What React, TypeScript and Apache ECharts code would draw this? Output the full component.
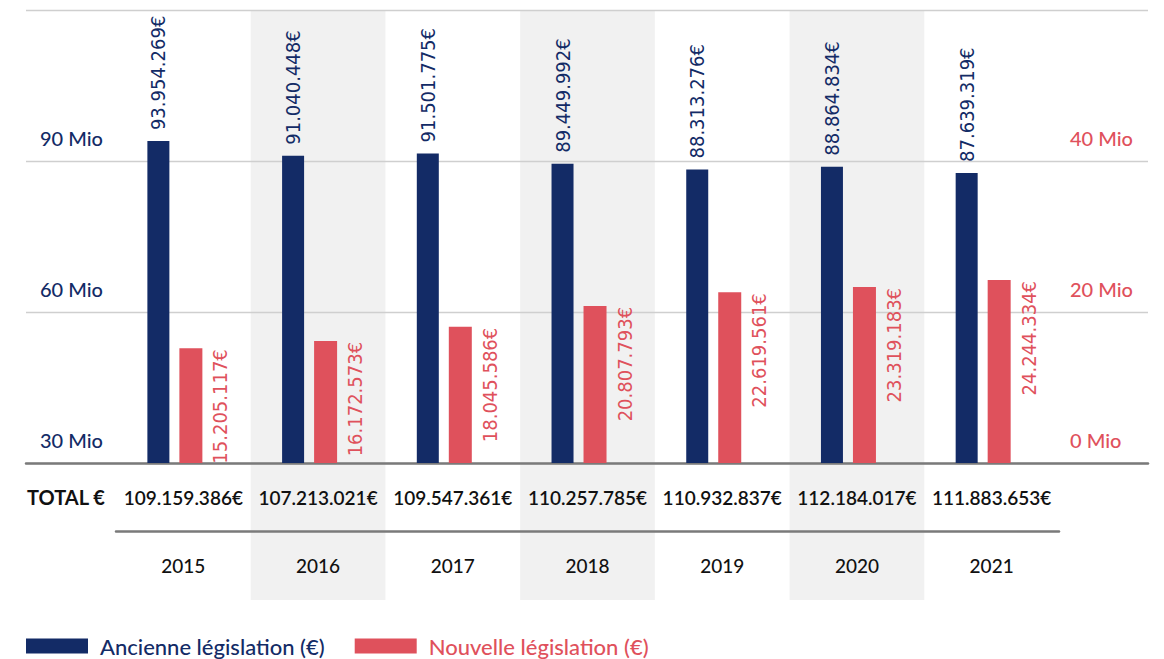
import React, { useEffect, useRef } from 'react';
import * as echarts from 'echarts';

const years = ['2015', '2016', '2017', '2018', '2019', '2020', '2021'];
const ancienne = [93954269, 91040448, 91501775, 89449992, 88313276, 88864834, 87639319];
const nouvelle = [15205117, 16172573, 18045586, 20807793, 22619561, 23319183, 24244334];
const totals = [109159386, 107213021, 109547361, 110257785, 110932837, 112184017, 111883653];
const leftMin = 30e6;
const leftMax = 120e6;
const leftStep = 30e6;
const rightMin = 0;
const rightMax = 60e6;
const rightStep = 20e6;
const seriesNames = ['Ancienne législation (€)', 'Nouvelle législation (€)'];
const totalLabel = 'TOTAL €';

const BLUE = '#132b66';
const RED = '#df515c';
const SHADE = '#f1f1f1';
const GEO = 'Lato, "Noto Sans", sans-serif';
const COND = '"DejaVu Sans Condensed", Roboto, sans-serif';

const fmt = (n: number) => String(n).replace(/\B(?=(\d{3})+(?!\d))/g, '.') + '€';
const mio = (v: number) => `${Math.round(v / 1e6)} Mio`;

export default function App() {
  const ref = useRef<HTMLDivElement>(null);
  useEffect(() => {
    if (!ref.current) return;
    const chart = echarts.init(ref.current, undefined, { renderer: 'svg' });
    const hiddenY = { type: 'value', show: false, splitLine: { show: false } };
    chart.setOption({
      animation: false,
      backgroundColor: '#ffffff',
      grid: [
        { left: 26, right: 16, top: 10, bottom: 196 },
        { left: 116, right: 105, top: 10, bottom: 59 },
        { left: 116, right: 105, top: 10, bottom: 196 },
        { left: 116, right: 105, top: 463, bottom: 128 },
      ],
      xAxis: [
        {
          gridIndex: 0, type: 'category', data: years, z: 3,
          axisLine: { show: true, onZero: false, lineStyle: { color: '#7a7a7a', width: 2.5 } },
          axisTick: { show: false }, axisLabel: { show: false }, splitLine: { show: false },
        },
        {
          gridIndex: 1, type: 'category', data: years, z: 0,
          axisLine: { show: false }, axisTick: { show: false }, axisLabel: { show: false },
          splitArea: { show: true, interval: 0, areaStyle: { color: ['rgba(255,255,255,0)', SHADE] } },
        },
        {
          gridIndex: 2, type: 'category', data: years, z: 4,
          axisLine: { show: false }, axisTick: { show: false },
          axisLabel: {
            interval: 0, margin: 25, fontFamily: GEO, fontSize: 19, fontWeight: 600, color: '#111',
            formatter: (_v: string, i: number) => fmt(totals[i]),
          },
        },
        {
          gridIndex: 3, type: 'category', data: years, z: 4,
          axisLine: { show: true, lineStyle: { color: '#7a7a7a', width: 2.5 } },
          axisTick: { show: false },
          axisLabel: { interval: 0, margin: 25, fontFamily: GEO, fontSize: 19, fontWeight: 500, color: '#111' },
        },
      ],
      yAxis: [
        {
          gridIndex: 0, type: 'value', position: 'left', min: leftMin, max: leftMax, interval: leftStep, z: 1,
          axisLine: { show: false }, axisTick: { show: false },
          splitLine: { show: true, lineStyle: { color: '#cfcfcf', width: 1.3 } },
          axisLabel: {
            inside: true, margin: 14, showMaxLabel: false, formatter: mio, fontWeight: 500,
            color: BLUE, fontFamily: GEO, fontSize: 20, verticalAlign: 'bottom', padding: [0, 0, 13, 0],
          },
        },
        {
          gridIndex: 0, type: 'value', position: 'right', min: rightMin, max: rightMax, interval: rightStep, z: 1,
          axisLine: { show: false }, axisTick: { show: false }, splitLine: { show: false },
          axisLabel: {
            inside: true, margin: 78, align: 'left', showMaxLabel: false, formatter: mio, fontWeight: 500,
            color: RED, fontFamily: GEO, fontSize: 20, verticalAlign: 'bottom', padding: [0, 0, 13, 0],
          },
        },
        { gridIndex: 1, ...hiddenY },
        { gridIndex: 2, ...hiddenY, min: leftMin, max: leftMax, interval: leftStep },
        { gridIndex: 2, ...hiddenY, min: rightMin, max: rightMax, interval: rightStep },
        { gridIndex: 3, ...hiddenY },
      ],
      legend: {
        left: 26, top: 635, padding: 0, icon: 'rect', itemWidth: 62, itemHeight: 15, itemGap: 30,
        textStyle: { fontFamily: GEO, fontSize: 22, fontWeight: 500, padding: [0, 0, 0, 7] },
        data: [
          { name: seriesNames[0], textStyle: { color: BLUE } },
          { name: seriesNames[1], textStyle: { color: RED } },
        ],
        selectedMode: false,
      },
      graphic: [
        {
          type: 'text', left: 27, top: 487, z: 10,
          style: { text: totalLabel, font: `700 20px ${GEO}`, fill: '#111' },
        },
      ],
      series: [
        {
          name: seriesNames[0], type: 'bar', xAxisIndex: 2, yAxisIndex: 3, data: ancienne,
          barWidth: 22, barGap: '45.45%', z: 3,
          itemStyle: { color: BLUE },
          label: {
            show: true, position: [11, -11], rotate: 90, align: 'left', verticalAlign: 'middle',
            formatter: (p: any) => fmt(p.value), color: BLUE, fontFamily: COND, fontSize: 20,
          },
        },
        {
          name: seriesNames[1], type: 'bar', xAxisIndex: 2, yAxisIndex: 4, data: nouvelle,
          barWidth: 23, barGap: '45.45%', z: 3,
          itemStyle: { color: RED },
          label: {
            show: true, position: [41, 1], rotate: 90, align: 'right', verticalAlign: 'middle',
            formatter: (p: any) => fmt(p.value), color: RED, fontFamily: COND, fontSize: 20,
          },
        },
        {
          name: 'spacer', type: 'bar', xAxisIndex: 2, yAxisIndex: 4, data: nouvelle,
          barWidth: 6.5, barGap: '45.45%', silent: true, legendHoverLink: false,
          itemStyle: { color: 'rgba(0,0,0,0)' }, label: { show: false },
        },
      ],
    });
    return () => chart.dispose();
  }, []);
  return <div ref={ref} style={{ position: 'fixed', left: 0, top: 0, width: 1164, height: 659 }} />;
}
